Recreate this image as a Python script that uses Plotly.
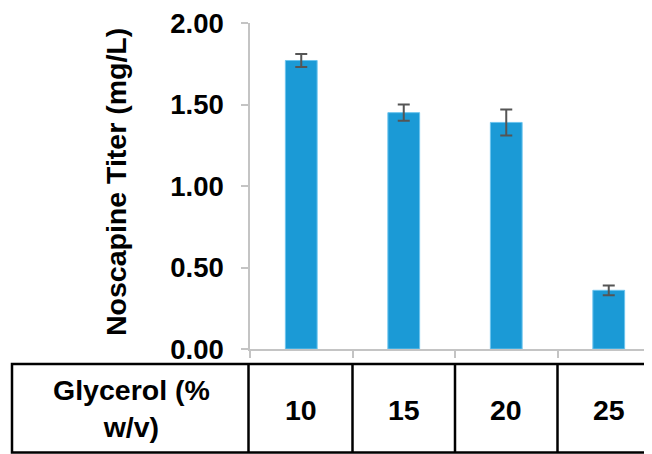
import plotly.graph_objects as go

categories = ["10", "15", "20", "25"]
titer = [1.77, 1.45, 1.39, 0.36]
titer_err = [0.04, 0.05, 0.08, 0.03]
y_ticks = [0.0, 0.5, 1.0, 1.5, 2.0]
row_label = "Glycerol (%<br>w/v)"
y_title = "Noscapine Titer (mg/L)"

FONT = "Liberation Sans, Arial, sans-serif"
OFF = 8  # page body margin
W, H = 652 - OFF, 454 - OFF
ML, MR, MT, MB = 250 - OFF, 0, 23 - OFF, 105
XR = [-0.5, 3.422]

pw = W - ML - MR
ph = H - MT - MB


def px_x(p):
    return (p - OFF - ML) / pw


def px_y(p):
    return (H - MB - (p - OFF)) / ph


def cat_x(v):
    return (v - XR[0]) / (XR[1] - XR[0])


fig = go.Figure()
fig.add_trace(go.Bar(
    x=categories, y=titer,
    width=0.31,
    marker=dict(color="#1B9AD6", line=dict(color="#6CC4EE", width=1)),
    error_y=dict(type="data", array=titer_err, visible=True,
                 color="#555555", thickness=2, width=6),
))

fig.update_layout(
    width=W, height=H,
    margin=dict(l=ML, r=MR, t=MT, b=MB, pad=0),
    plot_bgcolor="white", paper_bgcolor="white",
    showlegend=False,
    font=dict(family=FONT, color="black"),
    xaxis=dict(type="category", range=XR, showline=True, linecolor="#C4C4C4",
               linewidth=1.5, ticks="outside", tickson="boundaries",
               ticklen=7, tickcolor="#C4C4C4", tickwidth=1.5,
               showticklabels=False, showgrid=False, zeroline=False),
    yaxis=dict(range=[0, 2.0], tickvals=y_ticks, tickformat=".2f",
               showline=True, linecolor="#C4C4C4", linewidth=1.5,
               ticks="outside", ticklen=7, tickcolor="#C4C4C4", tickwidth=1.5,
               ticklabelstandoff=12, ticklabeloverflow="allow",
               tickfont=dict(family=FONT, size=27.5, color="black", weight="bold"),
               showgrid=False, zeroline=False),
)

annotations = [
    dict(text=y_title, x=px_x(116), y=px_y(182), xref="paper", yref="paper",
         showarrow=False, textangle=-90, xanchor="center", yanchor="middle",
         font=dict(family=FONT, size=28.5, color="black", weight="bold")),
    dict(text=row_label, x=px_x(131), y=px_y(408), xref="paper", yref="paper",
         showarrow=False, xanchor="center", yanchor="middle",
         font=dict(family=FONT, size=28.5, color="black", weight="bold")),
]
for i, c in enumerate(categories):
    annotations.append(dict(text=c, x=cat_x(i), xref="paper", y=px_y(409.5), yref="paper",
                            showarrow=False, xanchor="center", yanchor="middle",
                            font=dict(family=FONT, size=28.5, color="black", weight="bold")))
fig.update_layout(annotations=annotations)

top, bot = px_y(364), px_y(452.5)
line = dict(color="black", width=2.5)
shapes = [
    dict(type="rect", xref="paper", yref="paper", x0=px_x(12), x1=1.02,
         y0=bot, y1=top, line=line),
    dict(type="line", xref="paper", yref="paper", x0=px_x(248.5), x1=px_x(248.5),
         y0=bot, y1=top, line=line),
]
for i in range(len(categories) - 1):
    xv = cat_x(i + 0.5)
    shapes.append(dict(type="line", xref="paper", yref="paper", x0=xv, x1=xv,
                       y0=bot, y1=top, line=line))
fig.update_layout(shapes=shapes)

fig.write_html("out.html")
